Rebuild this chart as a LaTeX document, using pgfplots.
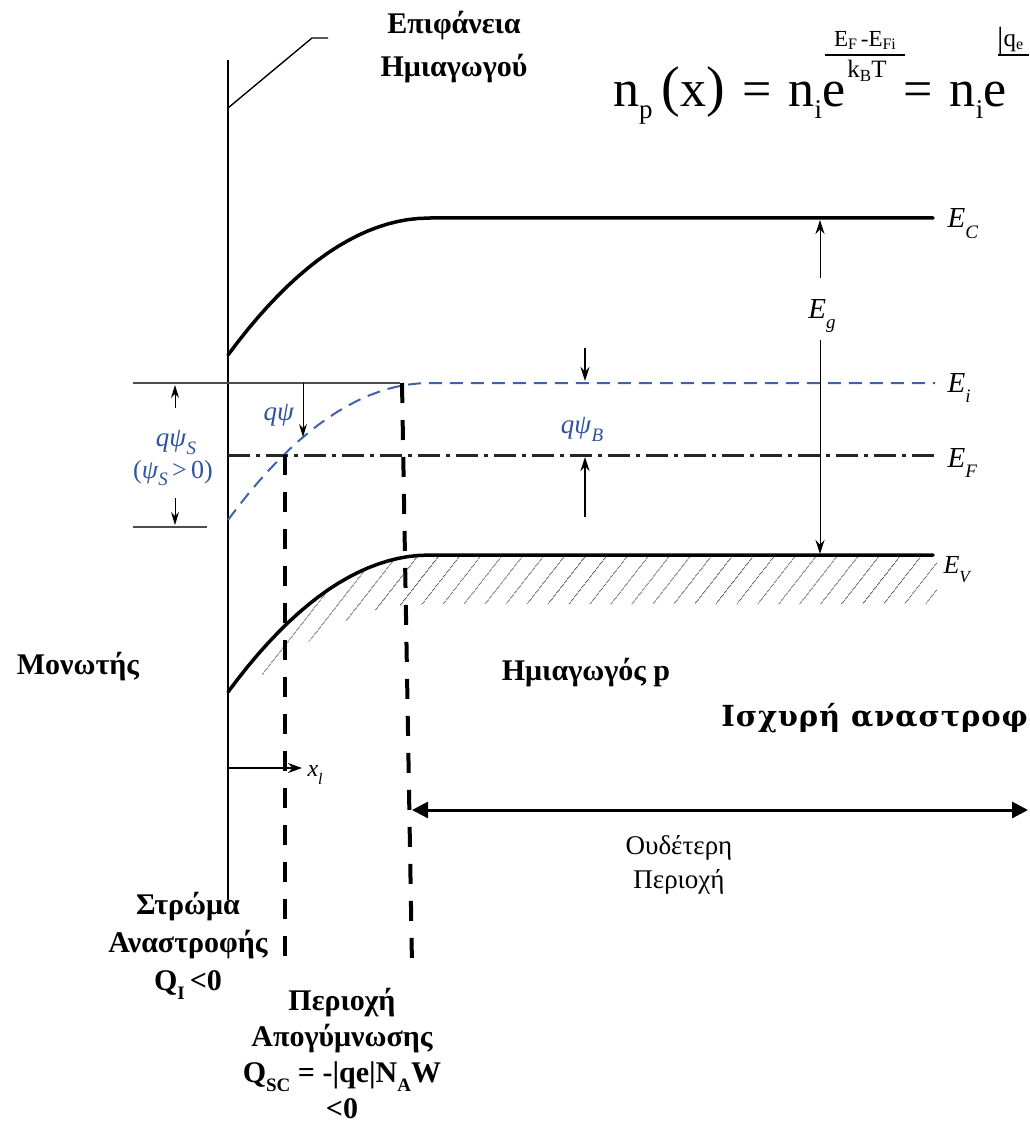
\documentclass[border=0pt]{standalone}
\usepackage{pgfplots}
\pgfplotsset{compat=1.18}
\usetikzlibrary{arrows.meta,patterns.meta}
\usepackage{fontspec}
\setmainfont{Liberation Serif}
\newfontfamily\djserif[LetterSpace=3]{DejaVu Serif}
\definecolor{bandblue}{HTML}{4062AE}
\definecolor{labelblue}{HTML}{2F52A0}
% subscript at a given size, lowered below the baseline
\newcommand{\sub}[3][0.3em]{\raisebox{-#1}{\fontsize{#2}{#2}\selectfont #3}}
\newcommand{\fsz}[1]{\fontsize{#1}{#1}\selectfont}

\begin{document}
\begin{tikzpicture}
\useasboundingbox (0,0) rectangle (1029pt,1123pt);
\clip (0,0) rectangle (1029pt,1123pt);
\begin{axis}[
  at={(0,0)}, anchor=south west,
  scale only axis, width=1029pt, height=1123pt,
  xmin=0, xmax=1029, ymin=0, ymax=1123, y dir=reverse,
  axis lines=none, clip=false]

% --- hatched valence band ---
\addplot[draw=none, pattern={Lines[angle=52,distance=17pt,line width=0.7pt]}, pattern color=black!65]
  coordinates {(262,650) (268,643.5) (288,623.4) (308,605.6) (328,590.6) (348,578.4) (368,568.8)
  (388,561.9) (408,557.6) (430,556) (937,556) (937,604) (430,604) (408,605) (388,607) (368,612)
  (348,620) (328,630) (308,642) (288,655) (268,670) (262,676)} -- cycle;

% --- insulator / semiconductor interface ---
\addplot[black, line width=2pt] coordinates {(228,60) (228,900)};
\addplot[black, line width=1.4pt] coordinates {(228,108) (240,98) (312,38) (328,38)};

% --- reference levels at the surface ---
\addplot[black!70, line width=1.2pt] coordinates {(133,383) (400,383)};
\addplot[black!70, line width=2pt] coordinates {(133,527) (207,527)};

% --- conduction band ---
\addplot[black, line width=3.5pt, line cap=round] coordinates {(228,355) (238,341.8) (248,329.2)
  (258,317.3) (268,306.1) (278,295.6) (288,285.7) (298,276.5) (308,268.0) (318,260.1) (328,252.9)
  (338,246.4) (348,240.6) (358,235.4) (368,230.9) (378,227.1) (388,223.9) (398,221.4) (408,219.6)
  (418,218.5) (430,218) (933,218)};
% --- valence band ---
\addplot[black, line width=3.5pt, line cap=round] coordinates {(228,692) (238,678.8) (248,666.2)
  (258,654.3) (268,643.1) (278,632.6) (288,622.7) (298,613.5) (308,605.0) (318,597.1) (328,589.9)
  (338,583.4) (348,577.6) (358,572.4) (368,567.9) (378,564.1) (388,560.9) (398,558.4) (408,556.6)
  (418,555.5) (430,555) (933,555)};
% --- intrinsic level ---
\addplot[bandblue, line width=2pt, dash pattern=on 13pt off 8pt] coordinates {(228,520) (238,506.8)
  (248,494.2) (258,482.3) (268,471.1) (278,460.6) (288,450.7) (298,441.5) (308,433.0) (318,425.1)
  (328,417.9) (338,411.4) (348,405.6) (358,400.4) (368,395.9) (378,392.1) (388,388.9) (398,386.4)
  (408,384.6) (418,383.5) (430,383) (935,383)};
% --- Fermi level ---
\addplot[black!85, line width=3pt, dash pattern=on 22pt off 6pt on 4pt off 6pt] coordinates {(228,455) (935,455)};

% --- region boundaries ---
\addplot[black, line width=4pt, dash pattern=on 20pt off 17pt] coordinates {(285,455) (285,970)};
\addplot[black, line width=4pt, dash pattern=on 20pt off 17pt] coordinates {(402,383) (412,965)};

% --- arrows ---
\addplot[black, line width=1pt, -{Stealth[length=14pt,width=9pt]}] coordinates {(820,278) (820,220)};
\addplot[black, line width=1pt, -{Stealth[length=14pt,width=9pt]}] coordinates {(820,340) (820,554)};
\addplot[black, line width=1.5pt, -{Stealth[length=14pt,width=9pt]}] coordinates {(585,348) (585,381)};
\addplot[black, line width=1.5pt, -{Stealth[length=14pt,width=9pt]}] coordinates {(585,517) (585,457)};
\addplot[black, line width=1pt, -{Stealth[length=13pt,width=8pt]}] coordinates {(175,408) (175,385)};
\addplot[black, line width=1pt, -{Stealth[length=13pt,width=8pt]}] coordinates {(175,498) (175,525)};
\addplot[black, line width=1pt, -{Stealth[length=13pt,width=8pt]}] coordinates {(303,383) (303,437)};
\addplot[black, line width=1.5pt, -{Stealth[length=14pt,width=10pt]}] coordinates {(228,768) (302,768)};
\addplot[black, line width=3pt, {Triangle[length=16pt,width=16pt]}-{Triangle[length=16pt,width=16pt]}]
  coordinates {(412,810) (1028,810)};

% --- band labels ---
\node[anchor=base west, font=\fsz{29}] at (axis cs:944,228) {\textit{E}\sub[0.35em]{19}{\textit{C}}};
\node[anchor=base, font=\fsz{29}] at (axis cs:822,318) {\textit{E}\sub[0.35em]{19}{\textit{g}}};
\node[anchor=base west, font=\fsz{29}] at (axis cs:944,392) {\textit{E}\sub[0.35em]{19}{\textit{i}}};
\node[anchor=base west, font=\fsz{29}] at (axis cs:944,467) {\textit{E}\sub[0.35em]{19}{\textit{F}}};
\node[anchor=base west, font=\fsz{26}] at (axis cs:940,573) {\textit{E}\sub[0.35em]{17}{\textit{V}}};
\node[anchor=base west, font=\fsz{24}] at (axis cs:304,776) {\textit{x}\sub[0.35em]{16}{\textit{l}}};

% --- potentials ---
\node[anchor=base, font=\fsz{27}, text=labelblue] at (axis cs:176,446) {\textit{qψ}\sub[0.3em]{19}{\textit{S}}};
\node[anchor=base, font=\fsz{26}, text=labelblue] at (axis cs:173,478) {(\textit{ψ}\sub[0.3em]{19}{\textit{S}}\,>\,0)};
\node[anchor=base, font=\fsz{27}, text=labelblue] at (axis cs:279,420) {\textit{qψ}};
\node[anchor=base, font=\fsz{27}, text=labelblue] at (axis cs:582,433) {\textit{qψ}\sub[0.3em]{19}{\textit{B}}};

% --- region names ---
\node[align=center, font=\bfseries\fontsize{30}{43}\selectfont] at (axis cs:454,47) {Επιφάνεια\\Ημιαγωγού};
\node[font=\bfseries\fsz{30}] at (axis cs:78,667) {Μονωτής};
\node[font=\bfseries\fsz{30}] at (axis cs:586,673) {Ημιαγωγός p};
\node[anchor=east, inner sep=0pt, font=\djserif\bfseries\fsz{29}] at (axis cs:1028,718) {Ισχυρή αναστροφ};
\node[align=center, font=\fontsize{27}{34}\selectfont] at (axis cs:679,865) {Ουδέτερη\\Περιοχή};
\node[align=center, font=\bfseries\fontsize{30}{38}\selectfont] at (axis cs:188,946)
  {Στρώμα\\Αναστροφής\\Q\sub{19}{I}\,<0};
\node[align=center, font=\bfseries\fontsize{30}{36}\selectfont] at (axis cs:342,1053)
  {Περιοχή\\Απογύμνωσης\\Q\sub{19}{SC} = -|qe|N\sub{19}{A}W\\<0};

% --- carrier density expression ---
\node[anchor=base west, inner sep=0pt, font=\fsz{52}] at (axis cs:613,107)
  {n\sub[0.22em]{27}{p}\,\raisebox{0.02em}{\fsz{56}(}x\raisebox{0.02em}{\fsz{56})}\,\,=\,\,n\sub[0.22em]{27}{i}e};
\node[anchor=base, inner sep=0pt, font=\fsz{23}] at (axis cs:865,47) {E\sub[0.12em]{16}{F}\,-E\sub[0.12em]{16}{Fi}};
\addplot[black, line width=1.4pt] coordinates {(825,55) (905,55)};
\node[anchor=base, inner sep=0pt, font=\fsz{25}] at (axis cs:867,78) {k\sub[0.15em]{17}{B}T};
\node[anchor=base west, inner sep=0pt, font=\fsz{52}] at (axis cs:903,107) {=\,\,n\sub[0.22em]{27}{i}e};
\node[anchor=base west, inner sep=0pt, font=\fsz{25}] at (axis cs:997,47) {\raisebox{-0.1em}{\fsz{32}|}q\sub[0.12em]{16}{e}};
\addplot[black, line width=1.4pt] coordinates {(998,55) (1029,55)};

\end{axis}
\end{tikzpicture}
\end{document}
